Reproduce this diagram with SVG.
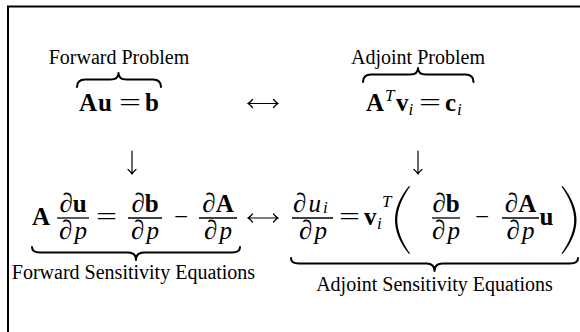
<svg xmlns="http://www.w3.org/2000/svg" width="580" height="332" viewBox="0 0 580 332">
<style>
.t{font-family:"Liberation Serif","Times New Roman",serif;font-size:20px;fill:#000}
.m{font-family:"Liberation Serif","Times New Roman",serif;font-size:25px;fill:#000}
.b{font-weight:bold}
.i{font-style:italic}
.d{font-style:italic;font-size:27px}
.s{font-size:17px}
.brace{fill:none;stroke:#000;stroke-width:2;stroke-linecap:round;stroke-linejoin:round}
.bar{stroke:#000;stroke-width:1.3}
.arr{fill:none;stroke:#000;stroke-width:1.2;stroke-linecap:round}
.frame{fill:none;stroke:#000;stroke-width:2}
</style>
<rect width="580" height="332" fill="#fff"/>
<path class="frame" d="M8,332 V6.5 H580"/>

<g id="forward-problem">
<text class="t" x="119" y="64" text-anchor="middle">Forward Problem</text>
<path class="brace" d="M77,87 Q77,79.5 85,79.5 L110.5,79.5 Q118.5,79.5 118.5,73 Q118.5,79.5 126.5,79.5 L153,79.5 Q161,79.5 161,87"/>
<text class="m b" x="79" y="110.5">A</text>
<text class="m b" x="98" y="110.5">u</text>
<text class="m" x="119" y="110.5" textLength="22" lengthAdjust="spacingAndGlyphs">=</text>
<text class="m b" x="145" y="110.5">b</text>
</g>

<g id="adjoint-problem">
<text class="t" x="418" y="64" text-anchor="middle">Adjoint Problem</text>
<path class="brace" d="M363,82 Q363,74.5 371,74.5 L410,74.5 Q418,74.5 418,68 Q418,74.5 426,74.5 L465.5,74.5 Q473.5,74.5 473.5,82"/>
<text class="m b" x="366" y="110.5">A</text>
<text class="m i s" x="385" y="101">T</text>
<text class="m b" x="396" y="110.5">v</text>
<text class="m i s" x="408.5" y="115">i</text>
<text class="m" x="419" y="110.5" textLength="22" lengthAdjust="spacingAndGlyphs">=</text>
<text class="m b" x="445" y="110.5">c</text>
<text class="m i s" x="457" y="115">i</text>
</g>

<g id="forward-sensitivity">
<text class="m b" x="32" y="224.5">A</text>
<text class="m" x="73" y="212" text-anchor="middle"><tspan class="d">∂</tspan><tspan class="b">u</tspan></text>
<line class="bar" x1="57" y1="218" x2="89" y2="218"/>
<text class="m i" x="73" y="239" text-anchor="middle"><tspan class="d">∂</tspan><tspan dx="2">p</tspan></text>
<text class="m" x="96" y="224.5" textLength="21" lengthAdjust="spacingAndGlyphs">=</text>
<text class="m" x="145" y="212" text-anchor="middle"><tspan class="d">∂</tspan><tspan class="b">b</tspan></text>
<line class="bar" x1="128" y1="218" x2="162" y2="218"/>
<text class="m i" x="145" y="239" text-anchor="middle"><tspan class="d">∂</tspan><tspan dx="2">p</tspan></text>
<text class="m" x="174" y="224.5">−</text>
<text class="m" x="218" y="212" text-anchor="middle"><tspan class="d">∂</tspan><tspan class="b">A</tspan></text>
<line class="bar" x1="199" y1="218" x2="237" y2="218"/>
<text class="m i" x="218" y="239" text-anchor="middle"><tspan class="d">∂</tspan><tspan dx="2">p</tspan></text>
<path class="brace" d="M32,247 Q32,252.5 40,252.5 L128,252.5 Q136,252.5 136,260 Q136,252.5 144,252.5 L232,252.5 Q240,252.5 240,247"/>
<text class="t" x="133.5" y="279" text-anchor="middle">Forward Sensitivity Equations</text>
</g>

<g id="adjoint-sensitivity">
<text class="m d" x="293" y="212">∂</text>
<text class="m i" x="308.5" y="212">u</text>
<text class="m i s" x="323" y="213">i</text>
<line class="bar" x1="292" y1="218" x2="333" y2="218"/>
<text class="m i" x="313" y="239" text-anchor="middle"><tspan class="d">∂</tspan><tspan dx="2">p</tspan></text>
<text class="m" x="339" y="224.5" textLength="21" lengthAdjust="spacingAndGlyphs">=</text>
<text class="m b" x="364" y="224.5">v</text>
<text class="m i s" x="377" y="229">i</text>
<text class="m i s" x="382" y="207">T</text>
<path d="M409,186 C399,198 395,210 395,220 C395,230 399,242 409,254 L410,253.5 C401.5,241.5 397.3,230 397.3,220 C397.3,210 401.5,198.5 410,186.5 Z" fill="#000"/>
<text class="m" x="446" y="212" text-anchor="middle"><tspan class="d">∂</tspan><tspan class="b">b</tspan></text>
<line class="bar" x1="432" y1="218" x2="460" y2="218"/>
<text class="m i" x="446" y="239" text-anchor="middle"><tspan class="d">∂</tspan><tspan dx="2">p</tspan></text>
<text class="m" x="475" y="224.5">−</text>
<text class="m" x="520.5" y="212" text-anchor="middle"><tspan class="d">∂</tspan><tspan class="b">A</tspan></text>
<line class="bar" x1="502" y1="218" x2="539" y2="218"/>
<text class="m i" x="520.5" y="239" text-anchor="middle"><tspan class="d">∂</tspan><tspan dx="2">p</tspan></text>
<text class="m b" x="539.5" y="224.5">u</text>
<path d="M562.5,186 C572.5,198 576.5,210 576.5,220 C576.5,230 572.5,242 562.5,254 L561.5,253.5 C570,241.5 574.2,230 574.2,220 C574.2,210 570,198.5 561.5,186.5 Z" fill="#000"/>
<path class="brace" d="M291,258 Q291,263.5 299,263.5 L426.5,263.5 Q434.5,263.5 434.5,271 Q434.5,263.5 442.5,263.5 L570,263.5 Q578,263.5 578,258"/>
<text class="t" x="434.5" y="291" text-anchor="middle">Adjoint Sensitivity Equations</text>
</g>

<g id="connectors">
<path class="arr" d="M248,103.5 H278 M252.5,99.5 Q250,102.5 248,103.5 Q250,104.5 252.5,107.5 M273.5,99.5 Q276,102.5 278,103.5 Q276,104.5 273.5,107.5"/>
<path class="arr" d="M248,218 H278 M252.5,214 Q250,217 248,218 Q250,219 252.5,222 M273.5,214 Q276,217 278,218 Q276,219 273.5,222"/>
<path class="arr" d="M132,151 V174 M128,169.5 Q131,172 132,174 Q133,172 136,169.5"/>
<path class="arr" d="M418,151 V174 M414,169.5 Q417,172 418,174 Q419,172 422,169.5"/>
</g>
</svg>
